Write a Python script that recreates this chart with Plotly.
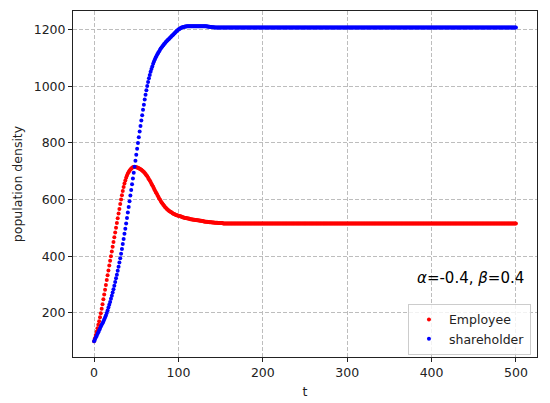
"""
Employee / shareholder population density over time (alpha=-0.4, beta=0.4).
"""

import plotly.graph_objects as go

# time grid: one point per unit of t
t_values = list(range(0, 501))

# Employee (red): transient part, t = 0..160
employee_head = [
    100, 111, 122, 134, 146, 158, 171, 185, 199, 215,
    231, 248, 265, 282, 299, 316, 333, 350, 367, 384,
    400, 417, 434, 450, 467, 484, 501, 517, 534, 551,
    567, 584, 600, 615, 630, 644, 657, 667, 677, 685,
    692, 697, 702, 706, 709, 712, 714, 715, 715, 715,
    714, 713, 712, 711, 709, 707, 705, 703, 700, 697,
    694, 690, 686, 682, 677, 672, 667, 662, 656, 651,
    645, 639, 633, 627, 622, 616, 611, 605, 600, 595,
    590, 586, 582, 578, 574, 571, 568, 565, 562, 560,
    558, 556, 554, 552, 550, 549, 547, 546, 545, 544,
    543, 542, 541, 540, 539, 538, 537, 536, 535, 535,
    534, 533, 533, 532, 531, 531, 530, 530, 529, 529,
    528, 528, 527, 527, 526, 526, 525, 525, 524, 524,
    523, 523, 522, 522, 522, 521, 521, 520, 520, 520,
    519, 519, 519, 518, 518, 518, 518, 517, 517, 517,
    517, 517, 517, 516, 516, 516, 516, 516, 516, 516,
    516,
]
employee_steady = 516

# Shareholder (blue): transient part, t = 0..150
shareholder_head = [
    100, 106, 113, 119, 126, 132, 139, 145, 152, 158,
    164, 170, 177, 184, 191, 200, 209, 219, 229, 239,
    250, 261, 272, 284, 296, 309, 322, 335, 349, 363,
    378, 393, 409, 426, 443, 461, 479, 497, 516, 535,
    554, 574, 594, 614, 634, 654, 674, 695, 716, 737,
    758, 779, 800, 820, 840, 860, 879, 898, 917, 935,
    953, 970, 986, 1001, 1015, 1028, 1040, 1051, 1061, 1070,
    1079, 1087, 1094, 1101, 1107, 1113, 1118, 1123, 1128, 1133,
    1137, 1141, 1145, 1149, 1152, 1156, 1159, 1162, 1165, 1168,
    1171, 1174, 1177, 1180, 1183, 1186, 1189, 1192, 1195, 1198,
    1200, 1202, 1204, 1206, 1207, 1208, 1209, 1210, 1211, 1211,
    1212, 1212, 1212, 1212, 1212, 1212, 1212, 1212, 1212, 1212,
    1212, 1212, 1212, 1212, 1212, 1212, 1212, 1212, 1212, 1212,
    1212, 1212, 1212, 1212, 1211, 1211, 1210, 1210, 1209, 1209,
    1208, 1208, 1208, 1207, 1207, 1207, 1207, 1207, 1207, 1207,
    1207,
]
shareholder_steady = 1207

# after the transient both series sit flat at their steady value
employee = employee_head + [employee_steady] * (len(t_values) - len(employee_head))
shareholder = shareholder_head + [shareholder_steady] * (len(t_values) - len(shareholder_head))

x_ticks = [0, 100, 200, 300, 400, 500]
y_ticks = [200, 400, 600, 800, 1000, 1200]

FONT = "DejaVu Sans"

fig = go.Figure()

fig.add_trace(go.Scatter(
    x=t_values,
    y=employee,
    mode='markers',
    name='Employee',
    marker=dict(color='#ff0000', size=4, line=dict(width=0))
))

fig.add_trace(go.Scatter(
    x=t_values,
    y=shareholder,
    mode='markers',
    name='shareholder',
    marker=dict(color='#0000ff', size=4, line=dict(width=0))
))

axis_style = dict(
    showline=True,
    linecolor='#222',
    linewidth=1,
    mirror=True,
    ticks='outside',
    ticklen=4,
    tickcolor='#222',
    showgrid=True,
    gridcolor='#bdbdbd',
    gridwidth=0.8,
    griddash='4px,2px',
    zeroline=False,
    tickfont=dict(family=FONT, size=12.5, color='#222'),
)

fig.update_xaxes(
    range=[-25, 525],
    tickvals=x_ticks,
    title=dict(text='t', font=dict(family=FONT, size=12.5, color='#222'), standoff=8),
    **axis_style
)
fig.update_yaxes(
    range=[44.5, 1265.5],
    tickvals=y_ticks,
    title=dict(text='population density', font=dict(family=FONT, size=12.5, color='#222'), standoff=8),
    **axis_style
)

fig.add_annotation(
    text='<i>α</i>=-0.4, <i>β</i>=0.4',
    x=512, y=322,
    xref='x', yref='y',
    xanchor='right', yanchor='middle',
    showarrow=False,
    font=dict(family=FONT, size=15, color='black')
)

# the page body adds an 8px margin, so the figure is 8px smaller each way
fig.update_layout(
    width=542,
    height=395,
    margin=dict(l=65, r=13, t=3, b=46),
    paper_bgcolor='white',
    plot_bgcolor='white',
    font=dict(family=FONT),
    legend=dict(
        x=0.987, y=0.08,
        xanchor='right', yanchor='middle',
        bgcolor='rgba(255,255,255,0.8)',
        bordercolor='#cccccc',
        borderwidth=1,
        font=dict(family=FONT, size=12.5, color='#222'),
        itemwidth=30,
        tracegroupgap=0
    )
)

fig.write_html("out.html")
